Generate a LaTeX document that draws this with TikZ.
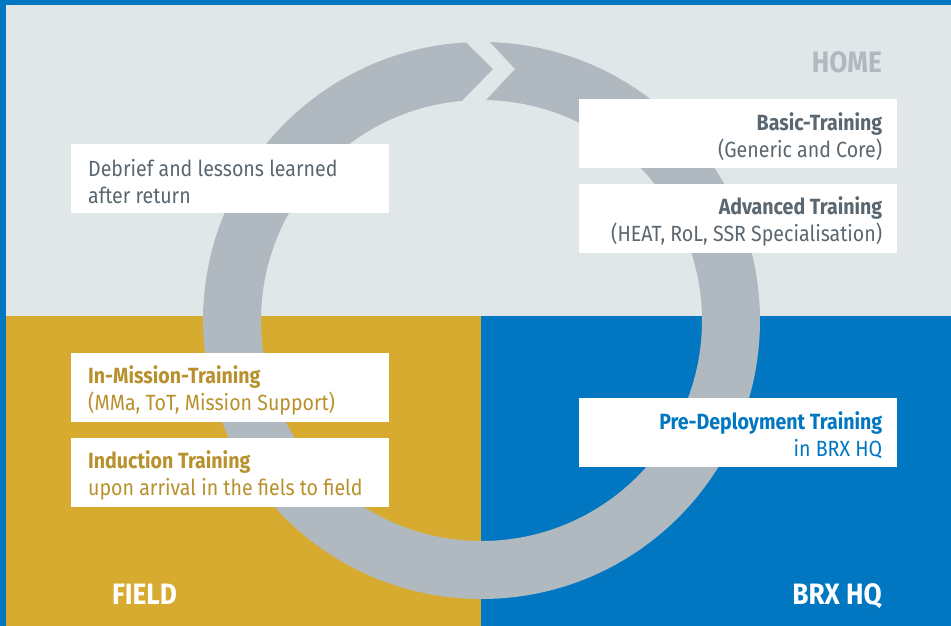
\documentclass[tikz,border=0pt]{standalone}
\usepackage{fontspec}
\setmainfont{Fira Sans}[FakeStretch=0.89]
\definecolor{homebg}{HTML}{E1E6E9}
\definecolor{fieldgold}{HTML}{D6AB30}
\definecolor{hqblue}{HTML}{0077C0}
\definecolor{ringgray}{HTML}{B1B9C0}
\definecolor{textgray}{HTML}{5B6770}
\definecolor{goldtext}{HTML}{B8912C}
\tikzset{
  infobox/.style={fill=white, minimum width=318pt, minimum height=69pt, inner sep=0pt, anchor=north west},
  boxtext/.style={inner sep=0pt, font=\fontsize{22}{27}\selectfont},
  lefttext/.style={boxtext, anchor=west, align=left},
  righttext/.style={boxtext, anchor=east, align=right},
  zonelabel/.style={inner sep=0pt, font=\bfseries\fontsize{29.5}{29.5}\selectfont}
}
\begin{document}
\begin{tikzpicture}[x=1pt,y=1pt]
\useasboundingbox (0,0) rectangle (951,626);
% zones
\fill[homebg] (0,0) rectangle (951,626);
\fill[fieldgold] (6,0) rectangle (481,310);
\fill[hqblue] (481,0) rectangle (951,310);
\fill[hqblue] (0,0) rectangle (6,626);
\fill[hqblue] (0,621) rectangle (951,626);
% ring
\coordinate (c) at (481.5,305.5);
\coordinate (tip) at (493,557);
\coordinate (notch) at (515,557);
\fill[ringgray] ([shift={(88.25:278.5)}]c) arc[start angle=88.25, end angle=-266.8, radius=278.5pt]
  -- (tip) -- ([shift={(-264.9:220.5)}]c) arc[start angle=-264.9, end angle=88.8, radius=220.5pt]
  -- (notch) -- cycle;
% boxes
\node[infobox] (debrief) at (71,482) {};
\node[infobox] (basic) at (579,527) {};
\node[infobox] (advanced) at (579,442) {};
\node[infobox] (inmission) at (71,273) {};
\node[infobox] (induction) at (71,188) {};
\node[infobox] (predep) at (579,228) {};
% box texts
\node[lefttext, text=textgray] (debrieft) at ([xshift=17pt,yshift=-2.5pt]debrief.west) {Debrief and lessons learned\\after return};
\node[righttext, text=textgray] (basict) at ([xshift=-15pt,yshift=-2.5pt]basic.east) {\textbf{Basic-Training}\\(Generic and Core)};
\node[righttext, text=textgray] (advancedt) at ([xshift=-15pt,yshift=-2.5pt]advanced.east) {\textbf{Advanced Training}\\(HEAT, RoL, SSR Specialisation)};
\node[lefttext, text=goldtext] (inmissiont) at ([xshift=17pt,yshift=-2.5pt]inmission.west) {\textbf{In-Mission-Training}\\(MMa, ToT, Mission Support)};
\node[lefttext, text=goldtext] (inductiont) at ([xshift=17pt,yshift=-2.5pt]induction.west) {\textbf{Induction Training}\\upon arrival in the fiels to field};
\node[righttext, text=hqblue] (predept) at ([xshift=-15pt,yshift=-2.5pt]predep.east) {\textbf{Pre-Deployment Training}\\in BRX HQ};
% zone labels
\node[zonelabel, text=ringgray, anchor=base east] (home) at (882,553) {HOME};
\node[zonelabel, text=white, anchor=base west] (field) at (112,21) {FIELD};
\node[zonelabel, text=white, anchor=base east] (hq) at (882,21) {BRX HQ};
\end{tikzpicture}
\end{document}
